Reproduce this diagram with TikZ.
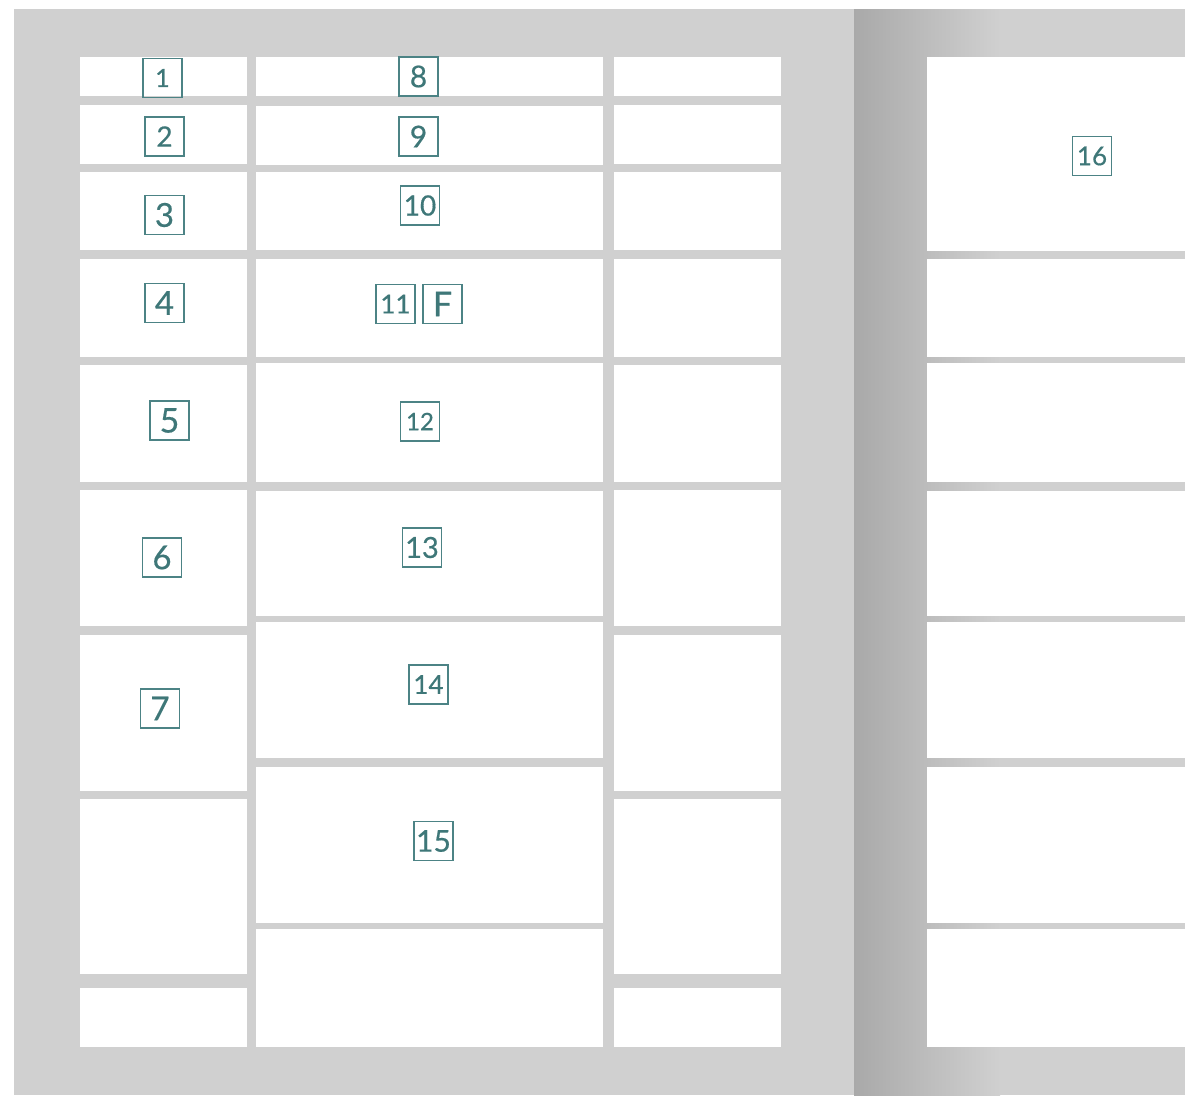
\documentclass[tikz,border=0pt]{standalone}
\usepackage{fontspec}
\setmainfont{Lato}
\newfontfamily\lblfont{Lato}[FakeBold=0.5]
\definecolor{pagegray}{HTML}{D0D0D0}
\definecolor{shadowgray}{HTML}{A9A9A9}
\definecolor{tealc}{HTML}{3E7778}
\definecolor{tealb}{HTML}{4C8385}
\tikzset{
  cell/.style={fill=white,draw=none},
  lbl/.style={draw=tealb, line width=1.1pt, text=tealc, minimum width=39pt,
    minimum height=39pt, inner sep=0pt, font=\lblfont\fontsize{#1}{#1}\selectfont},
  lbl/.default=30
}
\begin{document}
\begin{tikzpicture}[x=1pt,y=-1pt]
\useasboundingbox (0,0) rectangle (1185,1095);
% backgrounds
\fill[pagegray] (14,9) rectangle (854,1095);
\shade[left color=shadowgray, right color=pagegray] (854,9) rectangle (1000,1095);
\fill[pagegray] (999.5,9) rectangle (1185,1095);
% column A and C
\foreach \t/\b in {57/96,105/164,172/250,259/357,365/482,490/626,635/791,799/974,988/1047}{
  \path[cell] (80,\t) rectangle (247,\b);
  \path[cell] (614,\t) rectangle (781,\b);
}
% column B
\foreach \t/\b in {57/96,106/165,172/250,259/357,363/482,491/616,622/758,767/923,929/1047}{
  \path[cell] (256,\t) rectangle (603,\b);
}
% right page
\foreach \t/\b in {57/251,259/357,363/482,491/616,622/758,767/923,929/1047}{
  \path[cell] (927,\t) rectangle (1185,\b);
}
% labels
\node[lbl=25]   (l1)  at (162.5,78)    {1};
\node[lbl=28]   (l2)  at (164.5,136.5) {2};
\node[lbl=33]   (l3)  at (164.5,215)   {3};
\node[lbl=33]   (l4)  at (164.5,303)   {4};
\node[lbl=34]   (l5)  at (169.5,420.5) {5};
\node[lbl=33]   (l6)  at (162,557.5)   {6};
\node[lbl=33]   (l7)  at (160,708.5)   {7};
\node[lbl=30]   (l8)  at (418.5,76.5)  {8};
\node[lbl=30]   (l9)  at (418.5,136.5) {9};
\node[lbl=28]   (l10) at (420,205.5)   {10};
\node[lbl=26]   (l11) at (395.5,304)   {11};
\node[lbl=34]   (lF)  at (442.5,304)   {F};
\node[lbl=24]   (l12) at (420,421.5)   {12};
\node[lbl=29]   (l13) at (422,547.5)   {13};
\node[lbl=26]   (l14) at (428.5,684.5) {14};
\node[lbl=30]   (l15) at (433.5,841)   {15};
\node[lbl=26]   (l16) at (1092,156)    {16};
\end{tikzpicture}
\end{document}
